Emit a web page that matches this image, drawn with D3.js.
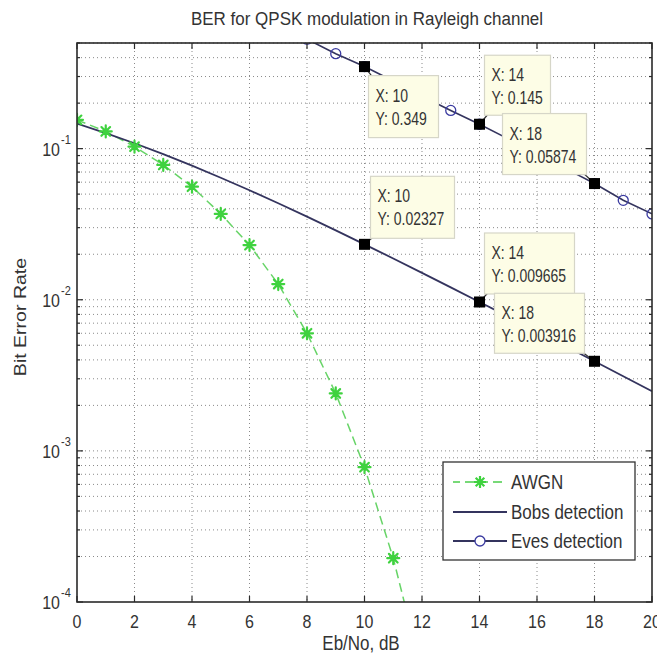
<!DOCTYPE html>
<html lang="en">
<head>
  <meta charset="UTF-8">
  <title>BER for QPSK modulation in Rayleigh channel</title>
  <script src="https://d3js.org/d3.v7.min.js"></script>
  <style>
    body { margin: 0; background: #fff; }
    svg { display: block; font-family: "Liberation Sans", Arial, sans-serif; }
  </style>
</head>
<body>
  <svg width="657" height="662"></svg>

  <script>
    // data
    const awgnX = [0, 1, 2, 3, 4, 5, 6, 7, 8, 9, 10, 11, 12];
    const awgnBer = [0.155, 0.13, 0.103, 0.078, 0.056, 0.037, 0.023, 0.0127, 0.006, 0.0024, 0.00078, 0.000195, 0.000034];

    const bobX = [0, 1, 2, 3, 4, 5, 6, 7, 8, 9, 10, 11, 12, 13, 14, 15, 16, 17, 18, 19, 20];
    const bobBer = [0.1464, 0.1267, 0.1085, 0.0919, 0.0771, 0.0642, 0.053, 0.0435, 0.0355, 0.0288, 0.02327,
                    0.01875, 0.01506, 0.01208, 0.009665, 0.00773, 0.00617, 0.00492, 0.003916, 0.00312, 0.00248];

    const eveX = [8, 9, 10, 11, 12, 13, 14, 15, 16, 17, 18, 19, 20];
    const eveBer = [0.53, 0.425, 0.349, 0.28, 0.222, 0.179, 0.145, 0.116, 0.0925, 0.0737, 0.05874, 0.0455, 0.037];

    const tipX = [10, 14, 18];
    const eveTipY = ["0.349", "0.145", "0.05874"];
    const bobTipY = ["0.02327", "0.009665", "0.003916"];

    const xTicks = [0, 2, 4, 6, 8, 10, 12, 14, 16, 18, 20];
    const yDecades = [1e-4, 1e-3, 1e-2, 1e-1];
    const yExponents = ["-4", "-3", "-2", "-1"];

    const legendNames = ["AWGN", "Bobs detection", "Eves detection"];

    // layout
    const L = 77, R = 652, T = 43, B = 602;
    const green = "#4ccd4c", navy = "#34345e", eveBlue = "#3a3aa0";
    const stretch = 1.15;

    const svg = d3.select("svg");
    const x = d3.scaleLinear().domain([0, 20]).range([L, R]);
    const y = d3.scaleLog().domain([1e-4, 0.5]).range([B, T]);

    // minor y values (2..9 per decade) inside the domain
    const yMinor = [];
    yDecades.forEach(d => {
      for (let m = 2; m <= 9; m++) {
        const v = d * m;
        if (v < 0.5 + 1e-9) yMinor.push(v);
      }
    });

    function txt(g, px, py, str, size, anchor, k) {
      return g.append("text")
        .attr("transform", `translate(${px},${py}) scale(1,${k || stretch})`)
        .attr("text-anchor", anchor || "start")
        .attr("font-size", size)
        .attr("fill", "#333")
        .text(str);
    }

    // grid
    const grid = svg.append("g")
      .attr("stroke", "#8a8a8a")
      .attr("stroke-width", 1)
      .attr("stroke-dasharray", "1,3");
    grid.selectAll("line.v")
      .data(xTicks.filter(t => t > 0 && t < 20))
      .join("line")
      .attr("x1", d => x(d)).attr("x2", d => x(d))
      .attr("y1", T).attr("y2", B);
    grid.selectAll("line.h")
      .data(yDecades.slice(1).concat(yMinor))
      .join("line")
      .attr("y1", d => y(d)).attr("y2", d => y(d))
      .attr("x1", L).attr("x2", R);

    // series
    const clip = svg.append("clipPath").attr("id", "plot")
      .append("rect").attr("x", L).attr("y", T).attr("width", R - L).attr("height", B - T);
    const plot = svg.append("g").attr("clip-path", "url(#plot)");

    const line = d3.line().x(d => x(d[0])).y(d => y(d[1]));
    const awgn = awgnX.map((v, i) => [v, awgnBer[i]]);
    const bob = bobX.map((v, i) => [v, bobBer[i]]);
    const eve = eveX.map((v, i) => [v, eveBer[i]]);

    plot.append("path").datum(awgn).attr("d", line)
      .attr("fill", "none").attr("stroke", green).attr("stroke-width", 1.5)
      .attr("stroke-dasharray", "9,5").attr("opacity", 0.85);
    plot.append("path").datum(bob).attr("d", line)
      .attr("fill", "none").attr("stroke", navy).attr("stroke-width", 1.8);
    plot.append("path").datum(eve).attr("d", line)
      .attr("fill", "none").attr("stroke", navy).attr("stroke-width", 1.6);

    function star(r) {
      const s = r * 0.72;
      return `M${-r},0L${r},0M0,${-r}L0,${r}M${-s},${-s}L${s},${s}M${-s},${s}L${s},${-s}`;
    }

    plot.selectAll("path.star").data(awgn).join("path")
      .attr("transform", d => `translate(${x(d[0])},${y(d[1])})`)
      .attr("d", star(6))
      .attr("stroke", "#3fd23f").attr("stroke-width", 2.2).attr("fill", "none")
      .attr("stroke-linecap", "round");

    plot.selectAll("circle.eve").data(eve).join("circle")
      .attr("cx", d => x(d[0])).attr("cy", d => y(d[1])).attr("r", 5)
      .attr("fill", "none").attr("stroke", eveBlue).attr("stroke-width", 1.3);

    // data tips: box offsets from the marked point
    const tipBoxes = [
      { dx: 4, dy: 9, w: 70, h: 62 },
      { dx: 5, dy: -69, w: 66, h: 60 },
      { dx: -92, dy: -70, w: 84, h: 61 },
      { dx: 6, dy: -68, w: 84, h: 62 },
      { dx: 5, dy: -69, w: 90, h: 61 },
      { dx: -100, dy: -68, w: 90, h: 60 }
    ];
    const tips = [];
    tipX.forEach((tx, i) => tips.push({ x: tx, v: eveBer[eveX.indexOf(tx)], label: eveTipY[i] }));
    tipX.forEach((tx, i) => tips.push({ x: tx, v: bobBer[bobX.indexOf(tx)], label: bobTipY[i] }));

    const tipG = svg.append("g");
    tips.forEach((t, i) => {
      const px = x(t.x), py = y(t.v), b = tipBoxes[i];
      const bx = px + b.dx, by = py + b.dy;
      // pointer from point to nearest box corner
      const cx = b.dx > 0 ? bx : bx + b.w;
      const cy = b.dy > 0 ? by : by + b.h;
      tipG.append("line")
        .attr("x1", px).attr("y1", py).attr("x2", cx + (b.dx > 0 ? 6 : -6)).attr("y2", cy + (b.dy > 0 ? 4 : -4))
        .attr("stroke", "#333").attr("stroke-width", 1.2);
      tipG.append("rect")
        .attr("x", bx).attr("y", by).attr("width", b.w).attr("height", b.h)
        .attr("fill", "#fdfde6").attr("stroke", "#d6d6c8").attr("stroke-width", 1.2);
      txt(tipG, bx + 7, by + 26, "X: " + t.x, 14, "start", 1.25);
      txt(tipG, bx + 7, by + 49, "Y: " + t.label, 14, "start", 1.25);
      tipG.append("rect")
        .attr("x", px - 5.5).attr("y", py - 5.5).attr("width", 11).attr("height", 11)
        .attr("fill", "#000");
    });

    // legend
    const lg = svg.append("g");
    lg.append("rect").attr("x", 443).attr("y", 462).attr("width", 192).attr("height", 98)
      .attr("fill", "#fff").attr("stroke", "#333").attr("stroke-width", 1.3);
    const rowY = [482, 512, 541];
    legendNames.forEach((name, i) => {
      const ly = rowY[i];
      const l = lg.append("line").attr("x1", 453).attr("x2", 507).attr("y1", ly).attr("y2", ly);
      if (i === 0) {
        l.attr("stroke", green).attr("stroke-width", 1.5).attr("stroke-dasharray", "9,5").attr("stroke-dashoffset", 2);
        lg.append("path").attr("transform", `translate(480,${ly})`).attr("d", star(6))
          .attr("stroke", "#3fd23f").attr("stroke-width", 2.2).attr("fill", "none");
      } else {
        l.attr("stroke", navy).attr("stroke-width", 1.8);
        if (i === 2) {
          lg.append("circle").attr("cx", 480).attr("cy", ly).attr("r", 5)
            .attr("fill", "#fff").attr("stroke", eveBlue).attr("stroke-width", 1.3);
        }
      }
      txt(lg, 511, ly + 7, name, 17);
    });

    // frame and ticks
    const ax = svg.append("g").attr("stroke", "#2a2a2a");
    ax.append("rect").attr("x", L).attr("y", T).attr("width", R - L).attr("height", B - T)
      .attr("fill", "none").attr("stroke-width", 1.6);
    xTicks.forEach(t => {
      ax.append("line").attr("x1", x(t)).attr("x2", x(t)).attr("y1", B).attr("y2", B - 6).attr("stroke-width", 1.2);
      ax.append("line").attr("x1", x(t)).attr("x2", x(t)).attr("y1", T).attr("y2", T + 6).attr("stroke-width", 1.2);
    });
    yDecades.forEach(t => {
      ax.append("line").attr("x1", L).attr("x2", L + 6).attr("y1", y(t)).attr("y2", y(t)).attr("stroke-width", 1.2);
      ax.append("line").attr("x1", R).attr("x2", R - 6).attr("y1", y(t)).attr("y2", y(t)).attr("stroke-width", 1.2);
    });
    yMinor.forEach(t => {
      ax.append("line").attr("x1", L).attr("x2", L + 3).attr("y1", y(t)).attr("y2", y(t)).attr("stroke-width", 1.2);
      ax.append("line").attr("x1", R).attr("x2", R - 3).attr("y1", y(t)).attr("y2", y(t)).attr("stroke-width", 1.2);
    });

    // tick labels
    const labels = svg.append("g");
    xTicks.forEach(t => txt(labels, x(t), 628, String(t), 16, "middle"));
    yDecades.forEach((t, i) => {
      txt(labels, 60, y(t) + 7, "10", 16, "end");
      txt(labels, 61, y(t) - 5, yExponents[i], 11, "start");
    });

    // title and axis labels
    txt(svg, 367, 25, "BER for QPSK modulation in Rayleigh channel", 17, "middle", 1.12);
    txt(svg, 361, 650, "Eb/No, dB", 17, "middle");
    svg.append("text")
      .attr("transform", `translate(26,317) rotate(-90) scale(${stretch},1)`)
      .attr("text-anchor", "middle")
      .attr("font-size", 17)
      .attr("fill", "#333")
      .text("Bit Error Rate");
  </script>
</body>
</html>
